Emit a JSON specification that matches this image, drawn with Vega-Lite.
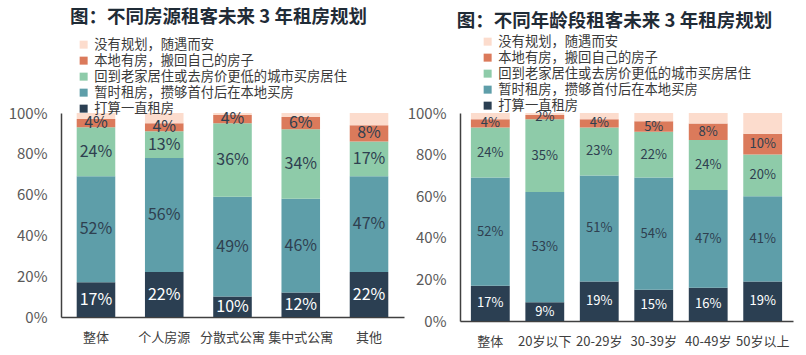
{
  "$schema": "https://vega.github.io/schema/vega-lite/v6.json",
  "padding": {"left": 8, "top": 7, "right": 5, "bottom": 3},
  "spacing": 3,
  "background": "white",
  "config": {
    "font": "Noto Sans CJK SC",
    "view": {"stroke": null},
    "title": {"fontSize": 18.5, "fontWeight": "bold", "color": "#1f2b36", "anchor": "middle", "font": "Noto Sans CJK SC"},
    "legend": {
      "orient": "none", "title": null, "symbolType": "square", "symbolSize": 64,
      "labelFontSize": 13.3, "labelColor": "#3a3a3a", "rowPadding": 2, "labelOffset": 4,
      "symbolStrokeWidth": 0, "labelLimit": 400
    },
    "axisX": {"labelAngle": 0, "labelFontSize": 13, "labelColor": "#404040", "ticks": false, "domainColor": "#404040", "domainWidth": 1.5, "labelPadding": 14, "title": null, "labelOverlap": false, "grid": false},
    "axisY": {"labelFontSize": 15, "labelColor": "#595959", "ticks": false, "grid": false, "domainColor": "#404040", "domainWidth": 1.5, "labelPadding": 14, "title": null}
  },
  "datasets": {
    "left": [
      {"cat": "整体", "s": "打算一直租房", "v": 17},
      {"cat": "整体", "s": "暂时租房，攒够首付后在本地买房", "v": 52},
      {"cat": "整体", "s": "回到老家居住或去房价更低的城市买房居住", "v": 24},
      {"cat": "整体", "s": "本地有房，搬回自己的房子", "v": 4},
      {"cat": "整体", "s": "没有规划，随遇而安", "v": 3},
      {"cat": "个人房源", "s": "打算一直租房", "v": 22},
      {"cat": "个人房源", "s": "暂时租房，攒够首付后在本地买房", "v": 56},
      {"cat": "个人房源", "s": "回到老家居住或去房价更低的城市买房居住", "v": 13},
      {"cat": "个人房源", "s": "本地有房，搬回自己的房子", "v": 4},
      {"cat": "个人房源", "s": "没有规划，随遇而安", "v": 5},
      {"cat": "分散式公寓", "s": "打算一直租房", "v": 10},
      {"cat": "分散式公寓", "s": "暂时租房，攒够首付后在本地买房", "v": 49},
      {"cat": "分散式公寓", "s": "回到老家居住或去房价更低的城市买房居住", "v": 36},
      {"cat": "分散式公寓", "s": "本地有房，搬回自己的房子", "v": 4},
      {"cat": "分散式公寓", "s": "没有规划，随遇而安", "v": 1},
      {"cat": "集中式公寓", "s": "打算一直租房", "v": 12},
      {"cat": "集中式公寓", "s": "暂时租房，攒够首付后在本地买房", "v": 46},
      {"cat": "集中式公寓", "s": "回到老家居住或去房价更低的城市买房居住", "v": 34},
      {"cat": "集中式公寓", "s": "本地有房，搬回自己的房子", "v": 6},
      {"cat": "集中式公寓", "s": "没有规划，随遇而安", "v": 2},
      {"cat": "其他", "s": "打算一直租房", "v": 22},
      {"cat": "其他", "s": "暂时租房，攒够首付后在本地买房", "v": 47},
      {"cat": "其他", "s": "回到老家居住或去房价更低的城市买房居住", "v": 17},
      {"cat": "其他", "s": "本地有房，搬回自己的房子", "v": 8},
      {"cat": "其他", "s": "没有规划，随遇而安", "v": 6}
    ],
    "right": [
      {"cat": "整体", "s": "打算一直租房", "v": 17},
      {"cat": "整体", "s": "暂时租房，攒够首付后在本地买房", "v": 52},
      {"cat": "整体", "s": "回到老家居住或去房价更低的城市买房居住", "v": 24},
      {"cat": "整体", "s": "本地有房，搬回自己的房子", "v": 4},
      {"cat": "整体", "s": "没有规划，随遇而安", "v": 3},
      {"cat": "20岁以下", "s": "打算一直租房", "v": 9},
      {"cat": "20岁以下", "s": "暂时租房，攒够首付后在本地买房", "v": 53},
      {"cat": "20岁以下", "s": "回到老家居住或去房价更低的城市买房居住", "v": 35},
      {"cat": "20岁以下", "s": "本地有房，搬回自己的房子", "v": 2},
      {"cat": "20岁以下", "s": "没有规划，随遇而安", "v": 1},
      {"cat": "20-29岁", "s": "打算一直租房", "v": 19},
      {"cat": "20-29岁", "s": "暂时租房，攒够首付后在本地买房", "v": 51},
      {"cat": "20-29岁", "s": "回到老家居住或去房价更低的城市买房居住", "v": 23},
      {"cat": "20-29岁", "s": "本地有房，搬回自己的房子", "v": 4},
      {"cat": "20-29岁", "s": "没有规划，随遇而安", "v": 3},
      {"cat": "30-39岁", "s": "打算一直租房", "v": 15},
      {"cat": "30-39岁", "s": "暂时租房，攒够首付后在本地买房", "v": 54},
      {"cat": "30-39岁", "s": "回到老家居住或去房价更低的城市买房居住", "v": 22},
      {"cat": "30-39岁", "s": "本地有房，搬回自己的房子", "v": 5},
      {"cat": "30-39岁", "s": "没有规划，随遇而安", "v": 4},
      {"cat": "40-49岁", "s": "打算一直租房", "v": 16},
      {"cat": "40-49岁", "s": "暂时租房，攒够首付后在本地买房", "v": 47},
      {"cat": "40-49岁", "s": "回到老家居住或去房价更低的城市买房居住", "v": 24},
      {"cat": "40-49岁", "s": "本地有房，搬回自己的房子", "v": 8},
      {"cat": "40-49岁", "s": "没有规划，随遇而安", "v": 5},
      {"cat": "50岁以上", "s": "打算一直租房", "v": 19},
      {"cat": "50岁以上", "s": "暂时租房，攒够首付后在本地买房", "v": 41},
      {"cat": "50岁以上", "s": "回到老家居住或去房价更低的城市买房居住", "v": 20},
      {"cat": "50岁以上", "s": "本地有房，搬回自己的房子", "v": 10},
      {"cat": "50岁以上", "s": "没有规划，随遇而安", "v": 10}
    ]
  },
  "resolve": {"scale": {"x": "independent", "y": "independent", "color": "independent"}, "legend": {"color": "independent"}},
  "hconcat": [
    {
      "width": 343,
      "height": 204,
      "data": {"name": "left"},
      "title": {"text": "图：不同房源租客未来 3 年租房规划", "offset": 12, "dx": -14},
      "transform": [
        {"calculate": "indexof(['打算一直租房','暂时租房，攒够首付后在本地买房','回到老家居住或去房价更低的城市买房居住','本地有房，搬回自己的房子','没有规划，随遇而安'], datum.s)", "as": "ord"},
        {"stack": "v", "groupby": ["cat"], "sort": [{"field": "ord", "order": "ascending"}], "as": ["v0", "v1"]},
        {"calculate": "(datum.v0 + datum.v1) / 2", "as": "mid"},
        {"calculate": "datum.v + '%'", "as": "lbl"}
      ],
      "encoding": {
        "x": {"field": "cat", "type": "nominal", "sort": ["整体", "个人房源", "分散式公寓", "集中式公寓", "其他"], "scale": {"paddingInner": 0.435, "paddingOuter": 0.23}}
      },
      "layer": [
        {
          "mark": {"type": "bar"},
          "encoding": {
            "y": {"field": "v0", "type": "quantitative", "scale": {"domain": [0, 100], "nice": false}, "axis": {"values": [0, 20, 40, 60, 80, 100], "labelExpr": "datum.value + '%'"}},
            "y2": {"field": "v1"},
            "color": {
              "field": "s", "type": "nominal",
              "scale": {"domain": ["没有规划，随遇而安", "本地有房，搬回自己的房子", "回到老家居住或去房价更低的城市买房居住", "暂时租房，攒够首付后在本地买房", "打算一直租房"], "range": ["#fcdccd", "#db7a5b", "#8ecba9", "#5e9ea9", "#2b3f52"]},
              "legend": {"legendX": 16, "legendY": -75}
            }
          }
        },
        {
          "transform": [{"filter": "datum.ord < 4"}],
          "mark": {"type": "text", "fontSize": 16},
          "encoding": {
            "y": {"field": "mid", "type": "quantitative"},
            "text": {"field": "lbl"},
            "color": {"condition": {"test": "datum.ord == 0", "value": "#ffffff"}, "value": "#2f4050"}
          }
        }
      ]
    },
    {
      "width": 333,
      "height": 208,
      "data": {"name": "right"},
      "title": {"text": "图：不同年龄段租客未来 3 年租房规划", "offset": 5, "dx": -12},
      "transform": [
        {"calculate": "indexof(['打算一直租房','暂时租房，攒够首付后在本地买房','回到老家居住或去房价更低的城市买房居住','本地有房，搬回自己的房子','没有规划，随遇而安'], datum.s)", "as": "ord"},
        {"stack": "v", "groupby": ["cat"], "sort": [{"field": "ord", "order": "ascending"}], "as": ["v0", "v1"]},
        {"calculate": "(datum.v0 + datum.v1) / 2", "as": "mid"},
        {"calculate": "datum.v + '%'", "as": "lbl"}
      ],
      "encoding": {
        "x": {"field": "cat", "type": "nominal", "sort": ["整体", "20岁以下", "20-29岁", "30-39岁", "40-49岁", "50岁以上"], "scale": {"paddingInner": 0.287, "paddingOuter": 0.2}}
      },
      "layer": [
        {
          "mark": {"type": "bar"},
          "encoding": {
            "y": {"field": "v0", "type": "quantitative", "scale": {"domain": [0, 100], "nice": false}, "axis": {"values": [0, 20, 40, 60, 80, 100], "labelExpr": "datum.value + '%'"}},
            "y2": {"field": "v1"},
            "color": {
              "field": "s", "type": "nominal",
              "scale": {"domain": ["没有规划，随遇而安", "本地有房，搬回自己的房子", "回到老家居住或去房价更低的城市买房居住", "暂时租房，攒够首付后在本地买房", "打算一直租房"], "range": ["#fcdccd", "#db7a5b", "#8ecba9", "#5e9ea9", "#2b3f52"]},
              "legend": {"legendX": 21, "legendY": -78}
            }
          }
        },
        {
          "transform": [{"filter": "datum.ord < 4"}],
          "mark": {"type": "text", "fontSize": 13},
          "encoding": {
            "y": {"field": "mid", "type": "quantitative"},
            "text": {"field": "lbl"},
            "color": {"condition": {"test": "datum.ord == 0", "value": "#ffffff"}, "value": "#2f4050"}
          }
        }
      ]
    }
  ]
}
